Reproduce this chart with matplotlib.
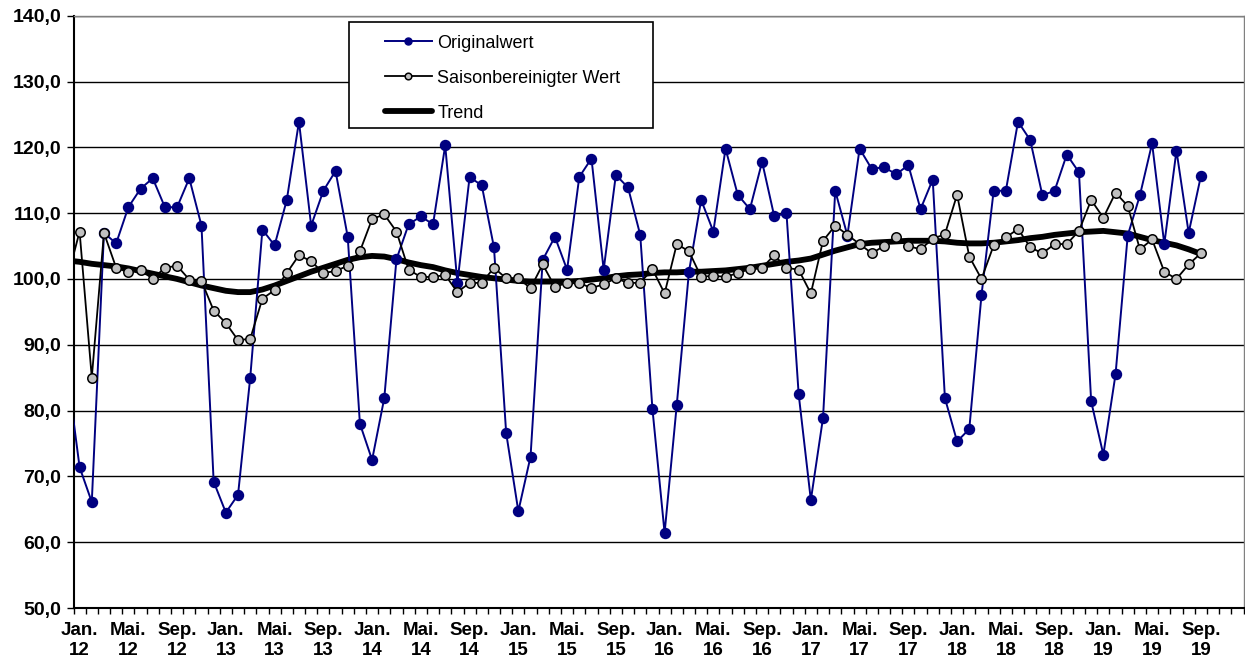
import numpy as np
import matplotlib
matplotlib.use('Agg')
import matplotlib.pyplot as plt
from matplotlib.patches import Rectangle
from matplotlib.ticker import FixedLocator, FuncFormatter

# monthly values Dec 2011 .. Sep 2019 (first one is only partly visible)
original = [85.6,
            71.4, 66.1, 107.0, 105.4, 110.9, 113.7, 115.3, 110.9, 110.9, 115.3, 108.1, 69.2,
            64.5, 67.2, 85.0, 107.5, 105.1, 112.0, 123.9, 108.1, 113.4, 116.4, 106.4, 78.0,
            72.5, 81.9, 103.0, 108.3, 109.5, 108.3, 120.3, 99.4, 115.5, 114.2, 104.8, 76.6,
            64.7, 73.0, 102.9, 106.4, 101.4, 115.5, 118.3, 101.4, 115.8, 113.9, 106.7, 80.3,
            61.4, 80.9, 101.1, 112.0, 107.2, 119.8, 112.8, 110.6, 117.8, 109.5, 110.0, 82.5,
            66.4, 78.9, 113.4, 106.6, 119.8, 116.7, 117.0, 115.9, 117.3, 110.6, 115.1, 81.9,
            75.3, 77.2, 97.5, 113.4, 113.4, 123.9, 121.1, 112.7, 113.4, 118.9, 116.2, 81.4,
            73.3, 85.5, 106.6, 112.7, 120.6, 105.3, 119.5, 107.0, 115.6]

saisonbereinigt = [100.1,
                   107.2, 85.0, 107.0, 101.7, 101.0, 101.4, 100.0, 101.7, 102.0, 99.9, 99.7, 95.2,
                   93.3, 90.7, 90.9, 97.0, 98.3, 100.9, 103.6, 102.7, 100.9, 101.2, 102.0, 104.2,
                   109.1, 109.8, 107.2, 101.4, 100.3, 100.3, 100.6, 98.0, 99.4, 99.4, 101.7, 100.1,
                   100.1, 98.6, 102.2, 98.8, 99.4, 99.4, 98.6, 99.2, 100.1, 99.4, 99.4, 101.5,
                   97.8, 105.3, 104.2, 100.3, 100.5, 100.3, 100.9, 101.5, 101.7, 103.6, 101.7, 101.4,
                   97.8, 105.8, 108.1, 106.7, 105.3, 103.9, 105.0, 106.4, 105.0, 104.5, 106.1, 106.8,
                   112.8, 103.4, 100.0, 105.1, 106.3, 107.6, 104.8, 103.9, 105.3, 105.3, 107.3, 112.0,
                   109.3, 113.1, 111.1, 104.5, 106.0, 101.1, 100.0, 102.2, 103.9]

trend = [102.8,
         102.6, 102.3, 102.1, 101.9, 101.6, 101.2, 100.8, 100.4, 100.0, 99.5, 99.0, 98.6,
         98.2, 98.0, 98.0, 98.4, 99.0, 99.7, 100.4, 101.1, 101.7, 102.3, 102.9, 103.3,
         103.5, 103.4, 103.0, 102.5, 102.1, 101.8, 101.3, 100.9, 100.6, 100.3, 100.1, 99.9,
         99.7, 99.6, 99.6, 99.6, 99.6, 99.7, 99.9, 100.1, 100.4, 100.6, 100.7, 100.9,
         101.0, 101.0, 101.1, 101.1, 101.2, 101.3, 101.5, 101.7, 102.0, 102.3, 102.6, 102.8,
         103.1, 103.7, 104.3, 104.8, 105.3, 105.5, 105.6, 105.7, 105.8, 105.8, 105.8, 105.7,
         105.5, 105.4, 105.4, 105.5, 105.7, 105.9, 106.2, 106.4, 106.7, 106.9, 107.1, 107.2,
         107.3, 107.1, 106.9, 106.4, 105.9, 105.5, 105.1, 104.5, 103.8]

month_names = ['Jan.', 'Mai.', 'Sep.']
years = ['12', '13', '14', '15', '16', '17', '18', '19']
tick_labels = [m + '\n' + y for y in years for m in month_names]

months = np.arange(-1, len(original) - 1)

plt.rcParams['font.family'] = ['Liberation Sans', 'DejaVu Sans']

fig = plt.figure(figsize=(12.45, 6.68), dpi=100)
ax = fig.add_axes([73.5 / 1245, 1 - 608 / 668, 1170 / 1245, 592.3 / 668])

ax.plot(months, trend, color='black', lw=4.2, solid_capstyle='round', zorder=3, label='Trend')
ax.plot(months, original, color='#000080', lw=1.4, marker='o', ms=7.2,
        mfc='#000080', mec='#000080', zorder=4, label='Originalwert')
ax.plot(months, saisonbereinigt, color='black', lw=1.3, marker='o', ms=6.8,
        mfc='#C0C0C0', mec='black', mew=1.1, zorder=5, label='Saisonbereinigter Wert')

ax.set_xlim(-0.5, 95.5)
ax.set_ylim(50, 140)
ax.set_yticks(np.arange(50, 141, 10))
ax.yaxis.set_major_formatter(FuncFormatter(lambda v, p: f'{v:.1f}'.replace('.', ',')))
ax.grid(axis='y', color='black', lw=1.0)
ax.set_axisbelow(True)

ax.xaxis.set_major_locator(FixedLocator(np.arange(0, 96, 4)))
ax.set_xticklabels(tick_labels, fontsize=13.5, fontweight='bold', linespacing=1.25)
ax.xaxis.set_minor_locator(FixedLocator(np.arange(-0.5, 96, 1)))
ax.tick_params(axis='x', which='major', length=0, pad=10)
ax.tick_params(axis='x', which='minor', length=4, width=1, direction='out')
ax.tick_params(axis='y', length=5, width=1, direction='out', pad=4)
for lab in ax.get_yticklabels():
    lab.set_fontsize(14)
    lab.set_fontweight('bold')

for s in ['left', 'bottom']:
    ax.spines[s].set_color('black')
    ax.spines[s].set_linewidth(1.5)
for s in ['top', 'right']:
    ax.spines[s].set_color('#808080')
    ax.spines[s].set_linewidth(1.0)

# legend box
ax.add_patch(Rectangle((0.2355, 0.8104), 0.2598, 0.179, transform=ax.transAxes,
                       facecolor='white', edgecolor='black', lw=1.2, zorder=6, clip_on=False))
h, l = ax.get_legend_handles_labels()
order = [1, 2, 0]
leg = ax.legend([h[i] for i in order], [l[i] for i in order], loc='upper left',
                bbox_to_anchor=(0.2662, 0.968), frameon=False, borderpad=0, borderaxespad=0,
                fontsize=13, handlelength=2.6, handletextpad=0.3, labelspacing=1.0,
                markerscale=0.7)
leg.set_zorder(7)

fig.savefig('out.png', dpi=100)
